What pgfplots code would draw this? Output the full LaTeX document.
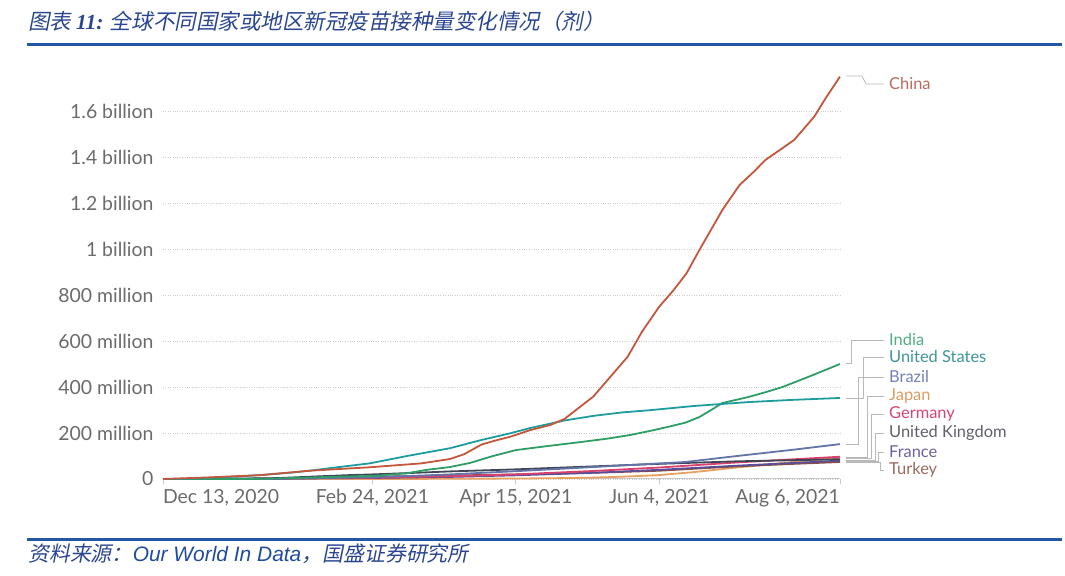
\documentclass[border=0pt]{standalone}
\usepackage{pgfplots}
\pgfplotsset{compat=1.18}
\usepackage{pgfplotstable}
\usepackage{fontspec}
\setmainfont{Lato}
\newfontfamily\lato{Lato}
\newfontfamily\cjk[FakeSlant=0.2]{Noto Sans CJK SC}
\newfontfamily\arial{Liberation Sans}
\newfontfamily\tnr{Liberation Serif}

\definecolor{cChina}{HTML}{C4563C}
\definecolor{cIndia}{HTML}{2E9E66}
\definecolor{cUS}{HTML}{1F9C9E}
\definecolor{cBrazil}{HTML}{6274A8}
\definecolor{cJapan}{HTML}{E8A060}
\definecolor{cGermany}{HTML}{D8406E}
\definecolor{cUK}{HTML}{3F4556}
\definecolor{cFrance}{HTML}{5A4E9A}
\definecolor{cTurkey}{HTML}{8B4F3E}
\definecolor{lChina}{HTML}{B86B5E}
\definecolor{lIndia}{HTML}{4FAF84}
\definecolor{lUS}{HTML}{3E9498}
\definecolor{lBrazil}{HTML}{7283B3}
\definecolor{lJapan}{HTML}{D99A63}
\definecolor{lGermany}{HTML}{D64474}
\definecolor{lUK}{HTML}{5F6068}
\definecolor{lFrance}{HTML}{6A62A2}
\definecolor{lTurkey}{HTML}{9A6A5E}
\definecolor{tickgray}{HTML}{6B6B6B}
\definecolor{titleblue}{HTML}{2A4690}
\definecolor{lineblue}{HTML}{2456A6}
\definecolor{owidblue}{HTML}{1F4CA0}

\pgfplotstableread{
d v
0 0
16 7
34 17
51 36
72 51
90 68
100 87
105 108
111 150
116 168
121 184
128 213
135 235
140 262
144 301
150 359
156 446
162 533
167 642
173 751
178 823
182.5 896
187 998
191 1085
195 1172
201 1281
206 1339
210 1390
215 1433
220 1477
227 1578
231 1659
236 1753
}\china
\pgfplotstableread{
d v
0 0
8 1
16 5
25 10
34 17
45 28
51 36
60 50
72 68
85 100
100 134
111 170
121 199
128 222
140 255
150 275
160 290
170 300
185 318
204 335
220 345
236 353
}\us
\pgfplotstableread{
d v
0 0
34 0.5
45 4
60 10
73 13
85 25
92 40
100 52
107 70
115 100
123 126
135 145
145 160
155 176
163 192
170 210
176 227
182 245
187 270
191 300
195 331
204 357
210 378
216 401
225 445
236 501
}\india
\pgfplotstableread{
d v
0 0
35 0
45 2
60 5
73 8
90 15
100 20
123 34
150 52
173 68
182 74
200 100
220 128
236 152
}\brazil
\pgfplotstableread{
d v
0 0
10 0.3
25 1.5
40 4
55 12
65 17
73 20
90 28
100 33
123 42
150 55
173 66
200 77
236 86
}\uk
\pgfplotstableread{
d v
0 0
14 0
30 1.5
50 3.5
73 6
100 12
123 20
150 35
173 50
200 72
220 86
236 97
}\germany
\pgfplotstableread{
d v
0 0
15 0
30 0.3
50 2.5
73 4.5
100 9
123 16
150 27
173 40
200 58
220 70
236 80
}\france
\pgfplotstableread{
d v
0 0
31 0
35 0.5
50 4
73 10
100 15
123 20
150 27
173 36
200 55
220 66
236 74
}\turkey
\pgfplotstableread{
d v
0 0
66 0
80 0.1
100 1
123 2
140 4
150 6
160 10
173 17
185 30
200 50
210 62
220 75
236 92
}\japan

\begin{document}
\begin{tikzpicture}
\path[use as bounding box] (0,0) rectangle (1065bp,576bp);
\begin{axis}[
  at={(163bp,97bp)}, anchor=south west,
  scale only axis, width=677bp, height=404bp,
  xmin=0, xmax=236, ymin=0, ymax=1760,
  clip=false,
  axis x line*=bottom, axis y line*=left,
  y axis line style={draw=none},
  x axis line style={draw=gray!45, line width=1bp, -},
  xtick={0,73,123,173,236},
  xticklabels={{\makebox[0pt][l]{Dec 13, 2020}},{Feb 24, 2021},{Apr 15, 2021},{Jun 4, 2021},{\makebox[0pt][r]{Aug 6, 2021}}},
  ytick={0,200,400,600,800,1000,1200,1400,1600},
  yticklabels={0,200 million,400 million,600 million,800 million,1 billion,1.2 billion,1.4 billion,1.6 billion},
  tick align=outside,
  xtick style={draw=gray!45, line width=1bp},
  ytick style={draw=none},
  major tick length=5bp,
  ymajorgrids,
  grid style={gray!40, dotted, line width=0.9bp},
  ticklabel style={font=\lato\fontsize{19.5}{21}\selectfont, text=tickgray},
  yticklabel style={xshift=-1bp},
  xticklabel style={yshift=-2bp},
  every axis plot/.append style={line width=1.8bp, no marks, line join=round},
]
\addplot[cJapan] table[x=d,y=v] {\japan};
\addplot[cTurkey] table[x=d,y=v] {\turkey};
\addplot[cFrance] table[x=d,y=v] {\france};
\addplot[cGermany] table[x=d,y=v] {\germany};
\addplot[cUK] table[x=d,y=v] {\uk};
\addplot[cBrazil] table[x=d,y=v] {\brazil};
\addplot[cIndia] table[x=d,y=v] {\india};
\addplot[cUS] table[x=d,y=v] {\us};
\addplot[cChina] table[x=d,y=v] {\china};
\end{axis}
\begin{scope}[x=1bp, y=-1bp, shift={(0bp,576bp)}]
  % header and footer
  \node[anchor=west, inner sep=0] at (28,21) {\cjk\fontsize{21.6}{23}\selectfont\color{titleblue}图表 {\tnr\bfseries\itshape 11:} 全球不同国家或地区新冠疫苗接种量变化情况（剂）};
  \draw[lineblue, line width=3bp] (27,45) -- (1062,45);
  \draw[lineblue, line width=3bp] (27,540) -- (1062,540);
  \node[anchor=west, inner sep=0] at (28,554) {\cjk\fontsize{21}{23}\selectfont\color{titleblue}资料来源：{\arial\itshape\color{owidblue}Our World In Data}，国盛证券研究所};
  % leader lines
  \begin{scope}[draw=gray!55, line width=0.8bp]
    \draw (846,76) -- (862,76) -- (866,84) -- (884,84);
    \draw (846,363) -- (851,363) -- (851,340) -- (884,340);
    \draw (846,398) -- (863,398) -- (863,357) -- (884,357);
    \draw (846,444) -- (858,444) -- (858,377) -- (884,377);
    \draw (846,457) -- (867,457) -- (867,396) -- (884,396);
    \draw (846,458) -- (871,458) -- (871,414) -- (884,414);
    \draw (846,460) -- (875,460) -- (875,433) -- (884,433);
    \draw (846,461) -- (878,461) -- (878,452) -- (884,452);
    \draw (846,462) -- (880,462) -- (880,470) -- (884,470);
  \end{scope}
  \begin{scope}[every node/.style={anchor=west, inner sep=0, font=\lato\fontsize{16.5}{18}\selectfont}]
    \node[text=lChina] at (889,84) {China};
    \node[text=lIndia] at (889,340) {India};
    \node[text=lUS] at (889,357) {United States};
    \node[text=lBrazil] at (889,377) {Brazil};
    \node[text=lJapan] at (889,396) {Japan};
    \node[text=lGermany] at (889,414) {Germany};
    \node[text=lUK] at (889,433) {United Kingdom};
    \node[text=lFrance] at (889,452) {France};
    \node[text=lTurkey] at (889,470) {Turkey};
  \end{scope}
\end{scope}
\end{tikzpicture}
\end{document}
